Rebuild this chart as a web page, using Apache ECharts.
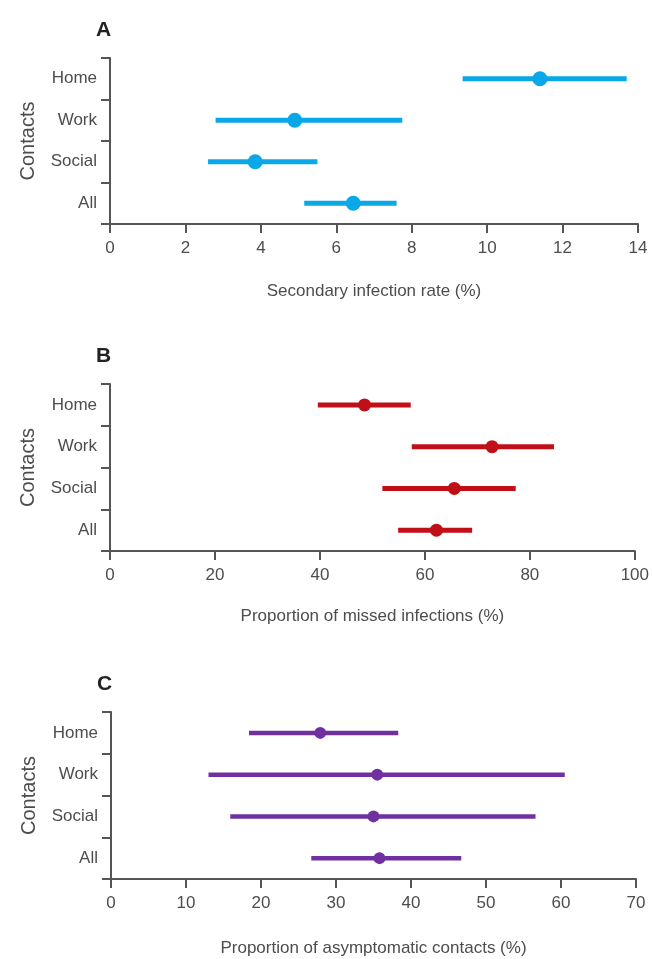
<!DOCTYPE html>
<html>
<head>
<meta charset="utf-8">
<script src="https://cdn.jsdelivr.net/npm/echarts@6/dist/echarts.min.js"></script>
<style>
html,body{margin:0;padding:0;background:#fff;}
#chart{width:652px;height:959px;}
</style>
</head>
<body>
<div id="chart"></div>
<script>
// ---- data ----
var categories = ['Home', 'Work', 'Social', 'All'];

var secondaryRate = [11.4, 4.9, 3.85, 6.45];
var secondaryLow  = [9.35, 2.8, 2.6, 5.15];
var secondaryHigh = [13.7, 7.75, 5.5, 7.6];

var missedPoint = [48.5, 72.8, 65.6, 62.2];
var missedLow   = [39.6, 57.5, 51.9, 54.9];
var missedHigh  = [57.3, 84.6, 77.3, 69.0];

var asymPoint = [27.9, 35.5, 35.0, 35.8];
var asymLow   = [18.4, 13.0, 15.9, 26.7];
var asymHigh  = [38.3, 60.5, 56.6, 46.7];

var panelLetters = ['A', 'B', 'C'];
var xTitles = ['Secondary infection rate (%)', 'Proportion of missed infections (%)', 'Proportion of asymptomatic contacts (%)'];
var yTitle = 'Contacts';
var xMax = [14, 100, 70];
var xInterval = [2, 20, 10];

// ---- style ----
var FONT = "'Liberation Sans', Arial, sans-serif";
var TXT = '#4d4d4d';
var AX = '#555555';
var colors = ['#0aa8e6', '#c00f17', '#7030a0'];
var lineW = [5, 5, 4.5];
var symSize = [15, 13, 12];
var grids = [
  {left: 110, width: 528, top: 58, height: 166},
  {left: 110, width: 527, top: 384, height: 167},
  {left: 111, width: 525, top: 712, height: 167}
];
var nameGaps = [59, 57, 61];

var panels = [
  {p: secondaryRate, lo: secondaryLow, hi: secondaryHigh},
  {p: missedPoint, lo: missedLow, hi: missedHigh},
  {p: asymPoint, lo: asymLow, hi: asymHigh}
];

var option = {
  backgroundColor: '#fff',
  animation: false,
  textStyle: {fontFamily: FONT},
  grid: [], xAxis: [], yAxis: [], series: [], title: []
};

panels.forEach(function (pd, i) {
  var g = grids[i];
  option.grid.push({left: g.left, width: g.width, top: g.top, height: g.height, containLabel: false});
  option.title.push({
    text: panelLetters[i], left: g.left - 19, top: g.top - 43,
    textStyle: {fontFamily: FONT, fontSize: 21, fontWeight: 'bold', color: '#222'}
  });
  option.xAxis.push({
    type: 'value', gridIndex: i, min: 0, max: xMax[i], interval: xInterval[i],
    name: xTitles[i], nameLocation: 'middle', nameGap: nameGaps[i],
    nameTextStyle: {fontFamily: FONT, fontSize: 17, color: TXT},
    splitLine: {show: false},
    axisLine: {show: true, lineStyle: {color: AX, width: 2}},
    axisTick: {show: true, length: 9, lineStyle: {color: AX, width: 2}},
    axisLabel: {margin: 16, fontFamily: FONT, fontSize: 17, color: TXT}
  });
  option.yAxis.push({
    type: 'category', gridIndex: i, data: categories, inverse: true,
    boundaryGap: true,
    name: yTitle, nameLocation: 'middle', nameGap: 72, nameRotate: 90,
    nameTextStyle: {fontFamily: FONT, fontSize: 20, color: TXT},
    axisLine: {show: true, lineStyle: {color: AX, width: 2}},
    axisTick: {show: true, length: 9, alignWithLabel: false, lineStyle: {color: AX, width: 2}},
    axisLabel: {margin: 13, fontFamily: FONT, fontSize: 17, color: TXT},
    splitLine: {show: false}
  });
  var ciData = categories.map(function (c, k) { return [pd.lo[k], pd.hi[k], k]; });
  option.series.push({
    type: 'custom', xAxisIndex: i, yAxisIndex: i,
    data: ciData,
    encode: {x: [0, 1], y: 2},
    renderItem: (function (idx) {
      return function (params, api) {
        var a = api.coord([api.value(0), api.value(2)]);
        var b = api.coord([api.value(1), api.value(2)]);
        return {
          type: 'line',
          shape: {x1: a[0], y1: a[1], x2: b[0], y2: b[1]},
          style: {stroke: colors[idx], lineWidth: lineW[idx], lineCap: 'butt'}
        };
      };
    })(i),
    z: 2
  });
  option.series.push({
    type: 'scatter', xAxisIndex: i, yAxisIndex: i,
    data: categories.map(function (c, k) { return [pd.p[k], k]; }),
    symbol: 'circle', symbolSize: symSize[i],
    itemStyle: {color: colors[i], opacity: 1},
    z: 3
  });
});

var chart = echarts.init(document.getElementById('chart'), null, {renderer: 'canvas'});
chart.setOption(option);
</script>
</body>
</html>
